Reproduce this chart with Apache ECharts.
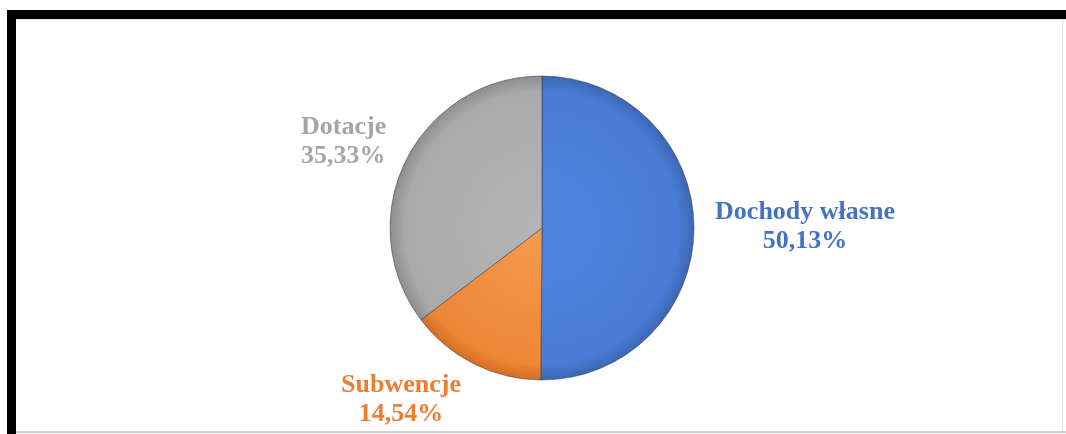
<!DOCTYPE html>
<html>
<head>
<meta charset="utf-8">
<script src="https://cdn.jsdelivr.net/npm/echarts@6/dist/echarts.min.js"></script>
<style>
html,body{margin:0;padding:0;background:#fff;}
#chart{width:1066px;height:434px;}
</style>
</head>
<body>
<div id="chart"></div>
<script>
const categories = ['Dochody własne', 'Subwencje', 'Dotacje'];
const shares = [50.13, 14.54, 35.33];
const sliceColors = [
  ['#4F84DE', '#4A7CD5', '#3C66B4'],
  ['#F59A50', '#EE8636', '#D46E26'],
  ['#B5B5B5', '#AAAAAA', '#8E8E8E']
];
const labelColors = ['#4472C4', '#ED7D31', '#A5A5A5'];
const labelSpots = [
  {x: 805, y: 227, align: 'center'},
  {x: 401, y: 400, align: 'center'},
  {x: 301, y: 142, align: 'left'}
];

const PIE_CENTER = [542, 228];
const PIE_R = 152;

const chart = echarts.init(document.getElementById('chart'));
const data = categories.map((name, i) => ({
  name: name,
  value: shares[i],
  itemStyle: {
    color: {
      type: 'radial', global: true,
      x: PIE_CENTER[0], y: PIE_CENTER[1], r: PIE_R,
      colorStops: [
        {offset: 0, color: sliceColors[i][0]},
        {offset: 0.9, color: sliceColors[i][1]},
        {offset: 1, color: sliceColors[i][2]}
      ]
    },
    borderColor: 'rgba(50,50,50,0.5)',
    borderWidth: 1
  },
  label: {color: labelColors[i]}
}));

chart.setOption({
  animation: false,
  backgroundColor: '#ffffff',
  graphic: [
    {type: 'rect', shape: {x: 7, y: 10, width: 1059, height: 9}, style: {fill: '#000'}},
    {type: 'rect', shape: {x: 7, y: 10, width: 9, height: 424}, style: {fill: '#000'}},
    {type: 'rect', shape: {x: 16, y: 19, width: 1050, height: 1.5}, style: {fill: '#e6e6e6'}},
    {type: 'rect', shape: {x: 1062, y: 21, width: 1, height: 410}, style: {fill: '#e4e4e4'}},
    {type: 'rect', shape: {x: 16, y: 431, width: 1050, height: 2}, style: {fill: '#d0d0d0'}}
  ],
  series: [{
    type: 'pie',
    center: PIE_CENTER,
    radius: [0, PIE_R],
    startAngle: 90,
    clockwise: true,
    data: data,
    label: {
      show: true,
      formatter: p => p.name + '\n' + p.value.toFixed(2).replace('.', ',') + '%',
      fontFamily: '"Liberation Serif", "Times New Roman", serif',
      fontWeight: 'bold',
      fontSize: 26,
      lineHeight: 29
    },
    labelLine: {show: false},
    labelLayout: function (params) {
      const s = labelSpots[params.dataIndex];
      return {x: s.x, y: s.y, align: s.align, verticalAlign: 'middle'};
    },
    emphasis: {disabled: true}
  }]
});
</script>
</body>
</html>
